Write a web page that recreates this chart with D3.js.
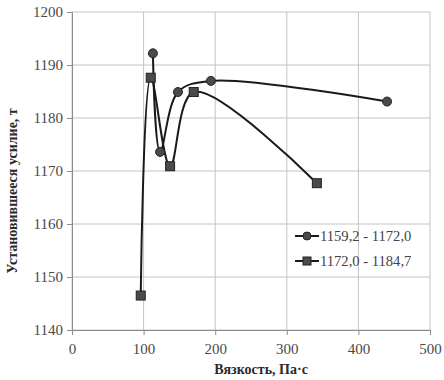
<!DOCTYPE html>
<html>
<head>
<meta charset="utf-8">
<script src="https://cdn.jsdelivr.net/npm/d3@7"></script>
<style>
  body { margin: 0; background: #fff; }
  svg text { font-family: "Liberation Serif", "DejaVu Serif", serif; }
</style>
</head>
<body>
<svg width="444" height="380"></svg>
<script>
(function (d3) {
  // series 1: 1159,2 - 1172,0
  const visc1 = [113, 123, 148, 194, 440];
  const force1 = [1192.2, 1173.6, 1184.9, 1187.0, 1183.1];
  // series 2: 1172,0 - 1184,7
  const visc2 = [96, 110, 137, 170, 342];
  const force2 = [1146.5, 1187.6, 1170.9, 1184.9, 1167.7];

  const seriesNames = ['1159,2 - 1172,0', '1172,0 - 1184,7'];
  const xTicks = [0, 100, 200, 300, 400, 500];
  const yTicks = [1140, 1150, 1160, 1170, 1180, 1190, 1200];

  const svg = d3.select('svg');
  const margin = { top: 12, right: 14, bottom: 50, left: 72 };
  const width = +svg.attr('width');
  const height = +svg.attr('height');
  const innerWidth = width - margin.left - margin.right;
  const innerHeight = height - margin.top - margin.bottom;

  const xScale = d3.scaleLinear().domain([0, 500]).range([0, innerWidth]);
  const yScale = d3.scaleLinear().domain([1140, 1200]).range([innerHeight, 0]);

  const g = svg.append('g')
    .attr('transform', `translate(${margin.left},${margin.top})`);

  // grid
  g.append('g').selectAll('line').data(yTicks).enter().append('line')
    .attr('x1', 0).attr('x2', innerWidth)
    .attr('y1', d => yScale(d)).attr('y2', d => yScale(d))
    .attr('stroke', '#c4c4c4').attr('stroke-width', 1);
  g.append('g').selectAll('line').data(xTicks).enter().append('line')
    .attr('y1', 0).attr('y2', innerHeight)
    .attr('x1', d => xScale(d)).attr('x2', d => xScale(d))
    .attr('stroke', '#c4c4c4').attr('stroke-width', 1);

  const xAxis = d3.axisBottom(xScale).tickValues(xTicks).tickSize(5).tickPadding(8);
  const yAxis = d3.axisLeft(yScale).tickValues(yTicks).tickSize(5).tickPadding(4)
    .tickFormat(d3.format('d'));

  const xAxisG = g.append('g')
    .attr('transform', `translate(0,${innerHeight})`)
    .call(xAxis);
  const yAxisG = g.append('g').call(yAxis);
  [xAxisG, yAxisG].forEach(a => {
    a.selectAll('.domain').attr('stroke', '#8c8c8c');
    a.selectAll('.tick line').attr('stroke', '#8c8c8c');
    a.selectAll('.tick text')
      .attr('fill', '#4a4a4a')
      .style('font-size', '15px')
      .style('font-family', '"Liberation Serif", serif');
  });

  // axis titles
  svg.append('text')
    .attr('x', 261)
    .attr('y', 374)
    .attr('text-anchor', 'middle')
    .attr('font-weight', 'bold')
    .style('font-size', '14px')
    .attr('fill', '#2a2a2a')
    .text('Вязкость, Па·с');

  svg.append('text')
    .attr('transform', 'translate(17,191) rotate(-90)')
    .attr('text-anchor', 'middle')
    .attr('font-weight', 'bold')
    .style('font-size', '14px')
    .attr('fill', '#2a2a2a')
    .text('Установившееся усилие, т');

  const makeData = (xs, ys) => xs.map((x, i) => ({ x, y: ys[i] }));
  const data1 = makeData(visc1, force1);
  const data2 = makeData(visc2, force2);

  const line = d3.line()
    .x(d => xScale(d.x))
    .y(d => yScale(d.y))
    .curve(d3.curveCatmullRom.alpha(0.5));

  [data1, data2].forEach(data => {
    g.append('path')
      .datum(data)
      .attr('d', line)
      .attr('fill', 'none')
      .attr('stroke', '#1a1a1a')
      .attr('stroke-width', 2);
  });

  const markerFill = '#4a4a4a';
  g.selectAll('.pt1').data(data1).enter().append('circle')
    .attr('cx', d => xScale(d.x)).attr('cy', d => yScale(d.y))
    .attr('r', 4.5)
    .attr('fill', markerFill).attr('stroke', '#222').attr('stroke-width', 1);

  g.selectAll('.pt2').data(data2).enter().append('rect')
    .attr('x', d => xScale(d.x) - 4.5).attr('y', d => yScale(d.y) - 4.5)
    .attr('width', 9).attr('height', 9)
    .attr('fill', markerFill).attr('stroke', '#222').attr('stroke-width', 1);

  // legend
  const legend = svg.append('g');
  const rowsY = [236, 261];
  seriesNames.forEach((name, i) => {
    const y = rowsY[i];
    legend.append('line')
      .attr('x1', 295).attr('x2', 319).attr('y1', y).attr('y2', y)
      .attr('stroke', '#1a1a1a').attr('stroke-width', 2);
    if (i === 0) {
      legend.append('circle').attr('cx', 307).attr('cy', y).attr('r', 4)
        .attr('fill', markerFill).attr('stroke', '#222');
    } else {
      legend.append('rect').attr('x', 303).attr('y', y - 4)
        .attr('width', 8).attr('height', 8)
        .attr('fill', markerFill).attr('stroke', '#222');
    }
    legend.append('text')
      .attr('x', 320).attr('y', y + 5)
      .style('font-size', '14.6px')
      .attr('fill', '#444')
      .text(name);
  });
}(d3));
</script>
</body>
</html>
